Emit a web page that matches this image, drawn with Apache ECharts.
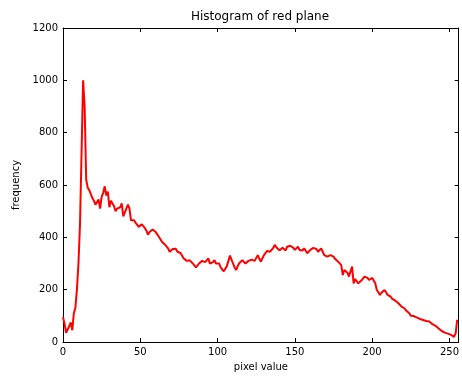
<!DOCTYPE html>
<html>
<head>
<meta charset="utf-8">
<script src="https://cdn.jsdelivr.net/npm/echarts@6/dist/echarts.min.js"></script>
<style>
  html, body { margin: 0; padding: 0; background: #fff; }
  #chart { width: 462px; height: 378px; }
</style>
</head>
<body>
<div id="chart"></div>
<script>
// pixel value counts 0..255
const counts = [
  95, 70, 35, 30, 60, 75, 45, 110, 130, 200,
  300, 450, 720, 1000, 900, 620, 590, 580, 575, 550,
  540, 525, 520, 545, 510, 555, 570, 595, 560, 575,
  515, 540, 535, 520, 500, 510, 505, 515, 530, 480,
  495, 500, 525, 510, 465, 460, 465, 455, 460, 440,
  445, 450, 450, 435, 425, 410, 420, 425, 430, 428,
  420, 415, 402, 395, 383, 378, 372, 370, 358, 345,
  352, 355, 360, 356, 345, 350, 340, 335, 320, 315,
  310, 305, 312, 315, 300, 295, 285, 280, 300, 307,
  310, 315, 305, 310, 320, 300, 294, 305, 313, 300,
  294, 300, 285, 280, 270, 280, 290, 310, 330, 315,
  300, 285, 275, 290, 301, 305, 313, 308, 300, 302,
  310, 307, 315, 320, 310, 313, 332, 318, 307, 320,
  332, 340, 348, 352, 345, 345, 360, 371, 362, 358,
  350, 352, 360, 358, 350, 364, 360, 368, 371, 360,
  352, 358, 364, 352, 345, 350, 358, 352, 339, 345,
  352, 355, 360, 364, 355, 345, 350, 358, 345, 332,
  328, 326, 330, 332, 330, 326, 318, 312, 307, 300,
  294, 256, 275, 281, 265, 250, 270, 288, 224, 240,
  243, 224, 230, 235, 237, 250, 256, 245, 237, 240,
  245, 243, 225, 199, 190, 180, 188, 195, 199, 190,
  180, 178, 173, 165, 160, 158, 154, 148, 141, 135,
  130, 128, 120, 115, 110, 100, 97, 99, 97, 93,
  90, 88, 86, 84, 83, 80, 79, 78, 72, 68,
  65, 62, 58, 52, 46, 42, 39, 36, 33, 32,
  28, 27, 24, 20, 33, 85
];

const xTicks = { min: 0, max: 256, interval: 50 };
const yTicks = { min: 0, max: 1200, interval: 200 };

const font = "DejaVu Sans, sans-serif";
const chart = echarts.init(document.getElementById("chart"), null, { renderer: "canvas" });

const boxAxis = {
  axisLine: { show: true, onZero: false, lineStyle: { color: "#000", width: 1 } },
  axisTick: { show: true, inside: true, length: 4, lineStyle: { color: "#000" } },
  splitLine: { show: false }
};

const plainLabel = (v) => String(v);

chart.setOption({
  animation: false,
  backgroundColor: "#fff",
  title: {
    text: "Histogram of red plane",
    left: 255,
    top: 6,
    textAlign: "center",
    textStyle: { fontFamily: font, fontSize: 12, fontWeight: "normal", color: "#000" }
  },
  grid: { left: 63, right: 1, top: 28, bottom: 36 },
  xAxis: [
    Object.assign({
      type: "value",
      min: xTicks.min, max: xTicks.max, interval: xTicks.interval,
      name: "pixel value",
      nameLocation: "middle",
      nameGap: 20,
      nameTextStyle: { fontFamily: font, fontSize: 10, color: "#000" },
      axisLabel: { fontFamily: font, fontSize: 10, color: "#000", margin: 5, showMaxLabel: false, formatter: plainLabel }
    }, boxAxis),
    Object.assign({
      type: "value", position: "top",
      min: xTicks.min, max: xTicks.max, interval: xTicks.interval,
      axisLabel: { show: false }
    }, boxAxis)
  ],
  yAxis: [
    Object.assign({
      type: "value",
      min: yTicks.min, max: yTicks.max, interval: yTicks.interval,
      name: "frequency",
      nameLocation: "middle",
      nameGap: 34,
      nameTextStyle: { fontFamily: font, fontSize: 10, color: "#000" },
      axisLabel: { fontFamily: font, fontSize: 10, color: "#000", margin: 5, formatter: plainLabel }
    }, boxAxis),
    Object.assign({
      type: "value", position: "right",
      min: yTicks.min, max: yTicks.max, interval: yTicks.interval,
      axisLabel: { show: false }
    }, boxAxis)
  ],
  series: [{
    type: "line",
    xAxisIndex: 0,
    yAxisIndex: 0,
    data: counts.map((v, i) => [i, v]),
    showSymbol: false,
    lineStyle: { color: "#ff0000", width: 2 },
    itemStyle: { color: "#ff0000" }
  }]
});
</script>
</body>
</html>
